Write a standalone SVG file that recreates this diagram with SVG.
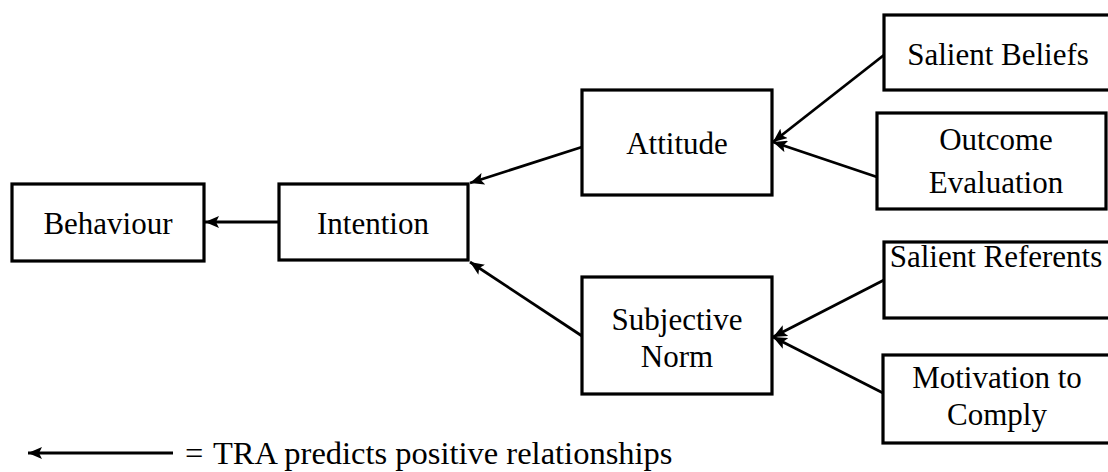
<svg xmlns="http://www.w3.org/2000/svg" width="1108" height="472" viewBox="0 0 1108 472">
<style>
.box{fill:#fff;stroke:#000;stroke-width:3.2}
.lbl{font-family:"Liberation Serif","Times New Roman",serif;font-size:31px;fill:#000;text-anchor:middle}
.leg{font-family:"Liberation Serif","Times New Roman",serif;font-size:32.5px;fill:#000}
.con{stroke:#000;stroke-width:2.8;fill:none;marker-end:url(#ah)}
</style>
<defs>
<marker id="ah" viewBox="0 0 14 12" refX="14" refY="6" markerWidth="14" markerHeight="12" markerUnits="userSpaceOnUse" orient="auto">
<path d="M0,0 L14,6 L0,12 L3,6 z" fill="#000"/>
</marker>
</defs>
<rect width="1108" height="472" fill="#fff"/>
<g id="connectors">
<line class="con" x1="279" y1="222" x2="205" y2="222"/>
<line class="con" x1="582" y1="147" x2="470" y2="183"/>
<line class="con" x1="582" y1="336" x2="470" y2="262"/>
<line class="con" x1="884" y1="55" x2="773" y2="142"/>
<line class="con" x1="877" y1="177" x2="773" y2="142"/>
<line class="con" x1="884" y1="280" x2="773" y2="337"/>
<line class="con" x1="883" y1="393" x2="773" y2="337"/>
</g>
<g id="behaviour"><rect class="box" x="12" y="184" width="192" height="77"/><text class="lbl" x="108" y="234">Behaviour</text></g>
<g id="intention"><rect class="box" x="279" y="184" width="189" height="76"/><text class="lbl" x="373" y="234">Intention</text></g>
<g id="attitude"><rect class="box" x="582" y="90" width="190" height="105"/><text class="lbl" x="677" y="154">Attitude</text></g>
<g id="subjective-norm"><rect class="box" x="582" y="277" width="190" height="117"/><text class="lbl" x="677" y="330">Subjective</text><text class="lbl" x="677" y="367">Norm</text></g>
<g id="salient-beliefs"><rect class="box" x="884" y="15" width="230" height="75"/><text class="lbl" x="998" y="65">Salient Beliefs</text></g>
<g id="outcome-evaluation"><rect class="box" x="877" y="113" width="229" height="96"/><text class="lbl" x="996" y="150">Outcome</text><text class="lbl" x="996" y="193">Evaluation</text></g>
<g id="salient-referents"><rect class="box" x="884" y="242" width="230" height="76"/><text class="lbl" x="996" y="267">Salient Referents</text></g>
<g id="motivation"><rect class="box" x="883" y="355" width="231" height="88"/><text class="lbl" x="997" y="388">Motivation to</text><text class="lbl" x="997" y="425">Comply</text></g>
<g id="legend">
<line class="con" x1="173" y1="453" x2="28" y2="453"/>
<text class="leg" x="185" y="464">=</text>
<text class="leg" x="213" y="464">TRA predicts positive relationships</text>
</g>
</svg>
